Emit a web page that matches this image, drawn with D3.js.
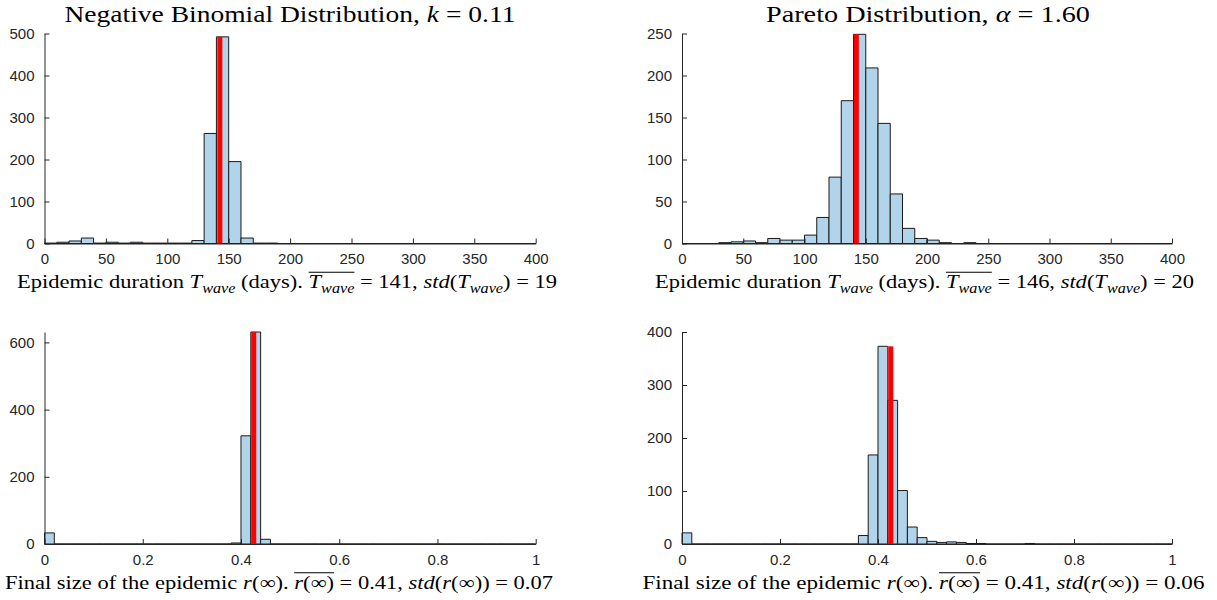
<!DOCTYPE html>
<html><head><meta charset="utf-8">
<script src="https://cdn.jsdelivr.net/npm/d3@7/dist/d3.min.js"></script>
<style>
html,body{margin:0;padding:0;background:#fff;}
svg text{white-space:pre;}
</style>
</head><body>
<svg id="chart" width="1217" height="600"></svg>
<script>
// ---- Data (bin counts) ----
// Epidemic duration bins: 0..400 days, width 10
const durationEdges = d3.range(0, 401, 10);
const nbDurationCounts = [1,3,6,13,1,3,1,3,1,1,1,1,7,262,492,195,13,1,1,0,
                          0,0,0,0,0,0,0,0,0,0,0,0,0,0,0,0,0,0,0,0];
const paretoDurationCounts = [0,0,0,1,2,3,1,6,4,4,10,31,79,170,249,209,143,59,18,6,
                              4,1,0,1,0,0,0,0,0,0,0,0,0,0,0,0,0,0,0,0];
// Final size bins: 0..1, width 0.02
const sizeEdges = d3.range(0, 51).map(i => i / 50);
const nbSizeCounts = [33,0,0,0,0,0,0,0,0,0,0,0,0,0,0,0,0,0,0,3,
                      322,631,14,0,0,0,0,0,0,0,0,0,0,0,0,0,0,0,0,0,
                      0,0,0,0,0,0,0,0,0,0];
const paretoSizeCounts = [21,0,0,0,0,0,0,0,0,0,0,0,0,0,0,0,0,0,16,168,
                          373,271,101,32,12,5,3,4,3,1,1,0,0,0,0,1,0,0,0,0,
                          0,0,0,0,0,0,0,0,0,0];
// red marker positions
const nbDurationMarker = 142.8, paretoDurationMarker = 142.3;
const nbSizeMarker = 0.426, paretoSizeMarker = 0.426;
// tick values
const durationTicks = [0,50,100,150,200,250,300,350,400];
const sizeTicks = [0,0.2,0.4,0.6,0.8,1];
const nbDurationYTicks = [0,100,200,300,400,500];
const paretoDurationYTicks = [0,50,100,150,200,250];
const nbSizeYTicks = [0,200,400,600];
const paretoSizeYTicks = [0,100,200,300,400];
const titles = ["Negative Binomial Distribution, ", "Pareto Distribution, "];

const svg = d3.select("#chart");
const SERIF = "'Liberation Serif','DejaVu Serif',serif";
const SANS = "'Liberation Sans',Arial,sans-serif";
const AX = "#262626";

// rich text: segments {t, s:'rm'|'it'|'sub', ol:true}; fitted to a target width
function rich(g, segs, cx, baseline, size, target) {
  const grp = g.append("g");
  let x = 0;
  const olRanges = [];
  let olStart = null;
  segs.forEach(sg => {
    const fs = sg.s === "sub" ? size * 0.72 : size;
    const t = grp.append("text")
      .attr("x", x).attr("y", baseline + (sg.s === "sub" ? size * 0.22 : 0))
      .attr("font-family", SERIF).attr("font-size", fs)
      .attr("font-style", sg.s === "rm" ? "normal" : "italic")
      .attr("fill", "#000").text(sg.t);
    const w = t.node().getComputedTextLength();
    if (sg.ol && olStart === null) olStart = x;
    x += w;
    if (sg.olEnd) { olRanges.push([olStart, x]); olStart = null; }
  });
  olRanges.forEach(r => {
    grp.append("line").attr("x1", r[0]).attr("x2", r[1])
      .attr("y1", baseline - size * 0.86).attr("y2", baseline - size * 0.86)
      .attr("stroke", "#000").attr("stroke-width", 1);
  });
  const k = target / x;
  grp.attr("transform", `translate(${cx - target / 2},0) scale(${k},1)`);
}

function panel(opt) {
  const g = svg.append("g");
  const x = d3.scaleLinear().domain(opt.xDomain).range([opt.x0, opt.x1]);
  const y = d3.scaleLinear().domain([0, opt.yMax]).range([opt.y0, opt.y1]);
  const edges = opt.edges;
  g.selectAll("path.bar").data(opt.counts).join("path").attr("class", "bar")
    .attr("d", (d, i) => {
      const a = x(edges[i]), b = x(edges[i + 1]), t = y(d), z = y(0);
      return `M${a},${z}L${a},${t}L${b},${t}L${b},${z}Z`;
    })
    .attr("fill", "#b2d4ea").attr("stroke", "#1a1a1a").attr("stroke-width", 1);
  const maxC = d3.max(opt.counts);
  g.append("rect")
    .attr("x", x(opt.marker) - 2.5).attr("width", 5)
    .attr("y", y(maxC)).attr("height", y(0) - y(maxC))
    .attr("fill", "#ff0000");
  // axes
  const xa = g.append("g").attr("transform", `translate(0,${opt.y0})`)
    .call(d3.axisBottom(x).tickValues(opt.xTicks).tickSizeInner(-5).tickSizeOuter(0).tickPadding(10)
      .tickFormat(d3.format("~g")));
  const ya = g.append("g").attr("transform", `translate(${opt.x0},0)`)
    .call(d3.axisLeft(y).tickValues(opt.yTicks).tickSizeInner(-5).tickSizeOuter(0).tickPadding(10)
      .tickFormat(d3.format("~g")));
  [xa, ya].forEach(a => {
    a.selectAll("path").attr("stroke", AX).attr("stroke-width", 1);
    a.selectAll("line").attr("stroke", AX);
    a.selectAll("text").attr("fill", AX).attr("font-family", SANS).attr("font-size", 15);
  });
  xa.selectAll("text").attr("dy", "0.71em");
  if (opt.title) {
    rich(g, opt.title, opt.titleCx, 22, 24, opt.titleW);
  }
  rich(g, opt.xlabel, opt.labelCx, opt.y0 + 45, 19, opt.labelW);
}

const durLabel = (m, s) => [
  {t: "Epidemic duration ", s: "rm"}, {t: "T", s: "it"}, {t: "wave", s: "sub"},
  {t: " (days). ", s: "rm"}, {t: "T", s: "it", ol: true}, {t: "wave", s: "sub", olEnd: true},
  {t: " = " + m + ", ", s: "rm"}, {t: "std", s: "it"}, {t: "(", s: "rm"}, {t: "T", s: "it"},
  {t: "wave", s: "sub"}, {t: ") = " + s, s: "rm"}];
const sizeLabel = (m, s) => [
  {t: "Final size of the epidemic ", s: "rm"}, {t: "r", s: "it"}, {t: "(\u221E). ", s: "rm"},
  {t: "r", s: "it", ol: true}, {t: "(\u221E)", s: "rm", olEnd: true},
  {t: " = " + m + ", ", s: "rm"}, {t: "std", s: "it"}, {t: "(", s: "rm"}, {t: "r", s: "it"},
  {t: "(\u221E)) = " + s, s: "rm"}];

panel({x0: 44.5, x1: 535.7, y0: 243.5, y1: 33.5, xDomain: [0, 400], yMax: 500,
  edges: durationEdges, counts: nbDurationCounts, marker: nbDurationMarker,
  xTicks: durationTicks, yTicks: nbDurationYTicks,
  title: [{t: titles[0], s: "rm"}, {t: "k", s: "it"}, {t: " = 0.11", s: "rm"}],
  titleCx: 290, titleW: 451,
  xlabel: durLabel(141, 19), labelCx: 287, labelW: 540});
panel({x0: 682, x1: 1172, y0: 243.5, y1: 33.5, xDomain: [0, 400], yMax: 250,
  edges: durationEdges, counts: paretoDurationCounts, marker: paretoDurationMarker,
  xTicks: durationTicks, yTicks: paretoDurationYTicks,
  title: [{t: titles[1], s: "rm"}, {t: "\u03B1", s: "it"}, {t: " = 1.60", s: "rm"}],
  titleCx: 928, titleW: 324,
  xlabel: durLabel(146, 20), labelCx: 924.5, labelW: 539});
panel({x0: 44.5, x1: 535.7, y0: 544, y1: 332, xDomain: [0, 1], yMax: 631,
  edges: sizeEdges, counts: nbSizeCounts, marker: nbSizeMarker,
  xTicks: sizeTicks, yTicks: nbSizeYTicks,
  xlabel: sizeLabel("0.41", "0.07"), labelCx: 279, labelW: 548});
panel({x0: 682, x1: 1172, y0: 544, y1: 332, xDomain: [0, 1], yMax: 400,
  edges: sizeEdges, counts: paretoSizeCounts, marker: paretoSizeMarker,
  xTicks: sizeTicks, yTicks: paretoSizeYTicks,
  xlabel: sizeLabel("0.41", "0.06"), labelCx: 923.5, labelW: 562});
</script>
</body></html>
